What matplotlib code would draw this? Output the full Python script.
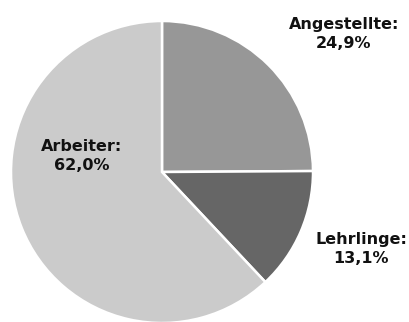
import matplotlib.pyplot as plt

# ---------------- DATA ----------------
categories = ["Angestellte", "Lehrlinge", "Arbeiter"]
shares = [24.9, 13.1, 62.0]
colors = ["#979797", "#666666", "#cbcbcb"]

# label anchor positions (pie radius = 1)
label_pos = [(1.205, 0.915), (1.32, -0.51), (-0.53, 0.105)]

# ---------------- PLOT ----------------
fig = plt.figure(figsize=(4.09, 3.22), dpi=100)
ax = fig.add_axes([0, 0, 1, 1])

ax.pie(shares, colors=colors, startangle=90, counterclock=False,
       radius=1.0, center=(0, 0),
       wedgeprops=dict(edgecolor="white", linewidth=1.8))

for name, val, (tx, ty) in zip(categories, shares, label_pos):
    txt = f"{name}:\n{val:.1f}%".replace(".", ",")
    ax.text(tx, ty, txt, ha="center", va="center", fontsize=11.5,
            fontweight="bold", color="#111111", linespacing=1.3,
            family="DejaVu Sans")

ax.set_xlim(-162 / 151, (409 - 162) / 151)
ax.set_ylim(-(322 - 172) / 151, 172 / 151)
ax.set_aspect("auto")
ax.axis("off")

fig.savefig("out.png", dpi=100)
